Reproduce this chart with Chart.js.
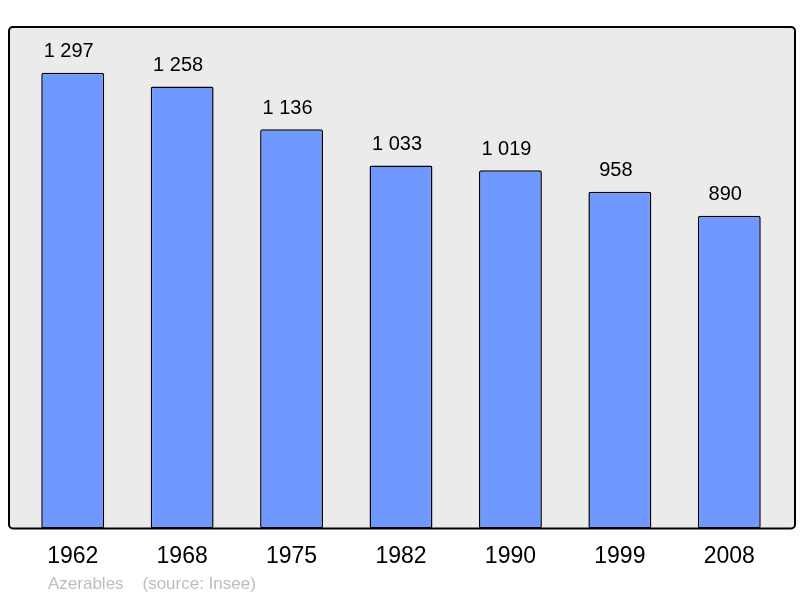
<!DOCTYPE html>
<html>
<head>
<meta charset="utf-8">
<script src="https://cdn.jsdelivr.net/npm/chart.js@4/dist/chart.umd.min.js"></script>
<style>
  html, body { margin: 0; padding: 0; background: #fff; }
  #wrap { width: 800px; height: 598px; }
</style>
</head>
<body>
<div id="wrap"><canvas id="c" width="800" height="598"></canvas></div>
<script>
const years = ['1962', '1968', '1975', '1982', '1990', '1999', '2008'];
const population = [1297, 1258, 1136, 1033, 1019, 958, 890];
const footerText = 'Azerables    (source: Insee)';

// format numbers like "1 297"
function fmt(n) {
  return String(n).replace(/\B(?=(\d{3})+(?!\d))/g, ' ');
}

// grey rounded frame behind the bars
const frame = {
  id: 'frame',
  beforeDatasetsDraw(chart) {
    const { ctx, chartArea } = chart;
    const x = chartArea.left - 9, y = chartArea.top;
    const w = chartArea.right - chartArea.left + 20, h = chartArea.bottom - chartArea.top;
    ctx.save();
    ctx.beginPath();
    ctx.roundRect(x, y, w, h, 4);
    ctx.fillStyle = '#ebebeb';
    ctx.fill();
    ctx.lineWidth = 2;
    ctx.strokeStyle = '#000';
    ctx.stroke();
    ctx.restore();
  }
};

// value labels above each bar + footer
const labels = {
  id: 'labels',
  afterDatasetsDraw(chart) {
    const { ctx } = chart;
    const meta = chart.getDatasetMeta(0);
    ctx.save();
    ctx.font = '20px "Liberation Sans", Arial, sans-serif';
    ctx.fillStyle = '#000';
    ctx.textAlign = 'center';
    ctx.textBaseline = 'middle';
    meta.data.forEach((bar, i) => {
      ctx.fillText(fmt(population[i]), bar.x - 4, bar.y - 21);
    });
    ctx.font = '17px "Liberation Sans", Arial, sans-serif';
    ctx.fillStyle = '#bdbdbd';
    ctx.textAlign = 'left';
    ctx.fillText(footerText, 48, 584);
    ctx.restore();
  }
};

new Chart(document.getElementById('c'), {
  type: 'bar',
  data: {
    labels: years,
    datasets: [{
      data: population,
      backgroundColor: '#7099ff',
      borderColor: '#000',
      borderWidth: 1.5,
      borderRadius: 2,
      borderSkipped: false,
      barPercentage: 0.575,
      categoryPercentage: 1,
    }],
  },
  options: {
    responsive: false,
    animation: false,
    layout: { padding: { left: 18, right: 16, top: 27, bottom: 14 } },
    plugins: {
      legend: { display: false },
      tooltip: { enabled: false },
    },
    scales: {
      x: {
        grid: { display: false, drawTicks: false },
        border: { display: false },
        ticks: {
          padding: 14,
          color: '#000',
          font: { size: 23, family: '"Liberation Sans", Arial, sans-serif' },
        },
      },
      y: {
        display: false,
        min: 0,
        max: 1427,
      },
    },
  },
  plugins: [frame, labels],
});
</script>
</body>
</html>
